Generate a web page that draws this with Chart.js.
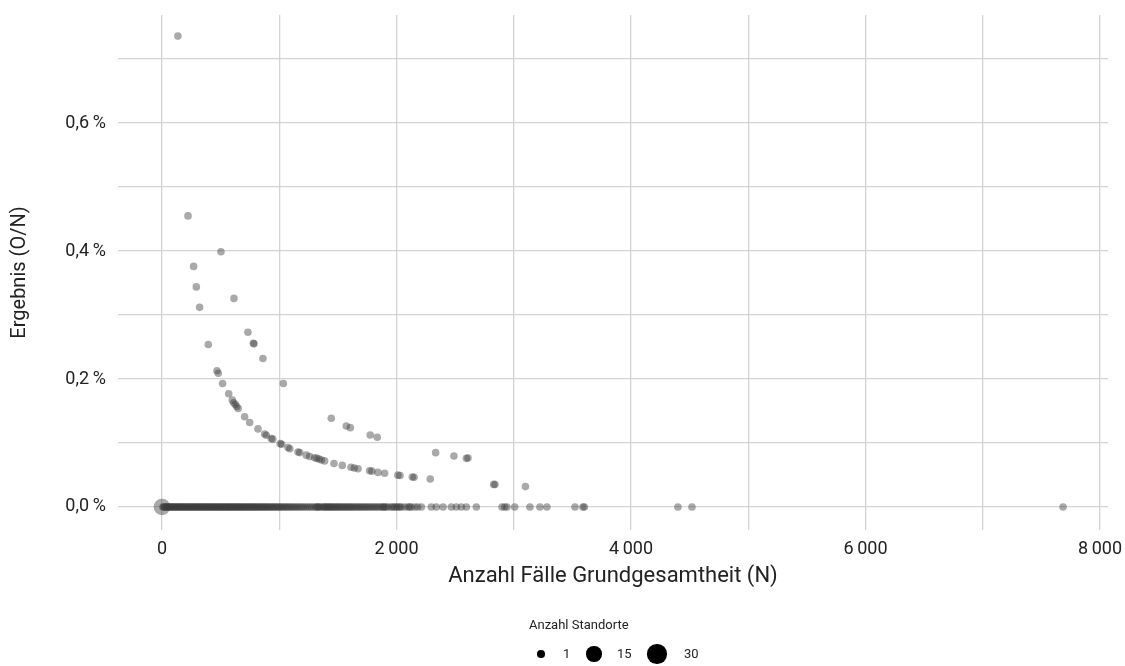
<!DOCTYPE html>
<html>
<head>
<meta charset="utf-8">
<script src="https://cdn.jsdelivr.net/npm/chart.js@4"></script>
<style>
  body { margin: 0; background: #fff; font-family: Roboto, sans-serif; }
  #wrap { position: relative; width: 1125px; height: 666px; }
  #legend { position: absolute; left: 0; top: 0; width: 1125px; height: 666px; color: #222; font-size: 13px; pointer-events: none; }
  #legend span { position: absolute; line-height: 16px; }
  #legend .dot { background: #000; border-radius: 50%; }
</style>
</head>
<body>
<div id="wrap">
  <canvas id="myChart"></canvas>
  <div id="legend">
    <span style="left:529px; top:617px;">Anzahl Standorte</span>
  </div>
</div>
<script>
// Punkte auf den Kurven (N, Ergebnis in %)
const kurveN = [136, 222, 270, 293, 321, 395, 469, 480, 503, 517, 569, 600, 612, 625, 638, 650, 614, 705, 733, 748,
  779, 785, 819, 861, 876, 890, 932, 945, 1009, 1020, 1035, 1075, 1090, 1160, 1175, 1231, 1260, 1302, 1320, 1340,
  1360, 1387, 1444, 1467, 1538, 1572, 1606, 1612, 1640, 1672, 1771, 1790, 1776, 1836, 1842, 1899, 2012, 2030, 2135, 2150,
  2288, 2334, 2490, 2596, 2610, 2829, 2840, 3100];
const kurveErgebnis = [0.736, 0.455, 0.376, 0.344, 0.312, 0.254, 0.213, 0.209, 0.399, 0.193, 0.177, 0.167, 0.163, 0.160, 0.157, 0.154, 0.326, 0.141, 0.273, 0.132,
  0.256, 0.255, 0.122, 0.232, 0.114, 0.112, 0.107, 0.106, 0.099, 0.098, 0.193, 0.093, 0.091, 0.086, 0.085, 0.081, 0.079, 0.077, 0.076, 0.075,
  0.0735, 0.072, 0.1386, 0.068, 0.065, 0.1266, 0.124, 0.062, 0.061, 0.0598, 0.0565, 0.056, 0.1125, 0.109, 0.054, 0.0527, 0.0497, 0.0493, 0.0468, 0.0465,
  0.0437, 0.0849, 0.0797, 0.076, 0.0765, 0.0353, 0.0352, 0.0318];

// Standorte mit Ergebnis 0 %
const nullN = [8, 15, 22, 31, 38, 46, 53, 61, 70, 77, 85, 93, 101, 110, 118, 126, 133, 142, 150, 159,
  167, 175, 184, 192, 200, 209, 217, 226, 234, 243, 251, 260, 268, 277, 285, 294, 302, 311, 320, 328,
  337, 345, 354, 362, 371, 380, 388, 397, 405, 414, 423, 431, 440, 449, 457, 466, 474, 483, 492, 500,
  509, 518, 527, 535, 544, 553, 562, 570, 579, 588, 597, 606, 615, 624, 633, 642, 651, 660, 669, 678,
  688, 697, 706, 716, 725, 735, 744, 754, 763, 773, 783, 793, 802, 812, 822, 833, 843, 853, 864, 874,
  885, 895, 906, 917, 928, 940, 951, 963, 974, 986, 998, 1010, 1023, 1036, 1049, 1062, 1075, 1089, 1103, 1117,
  1131, 1146, 1161, 1176, 1192, 1208, 1224, 1241, 1258, 1275, 1293, 1311, 1330, 1349, 1368, 1388, 1409, 1430, 1451, 1473,
  1496, 1519, 1543, 1567, 1592, 1618, 1644, 1671, 1699, 1727, 1756, 1786, 1817, 1848, 1880, 1899, 1913, 1956, 1968, 1999,
  2015, 2041, 2098, 2112, 2155, 2212, 2297, 2340, 2397, 2468, 2511, 2553, 2596, 2681, 2900, 2923, 2942, 3008, 3138, 3223,
  3283, 3522, 3590, 3602, 4400, 4520, 7685,
  1320, 1340, 1380, 1400, 1420, 1440, 1462, 1485, 1507, 1530, 1555, 1580, 1605, 1630, 1658, 1685, 1713, 1742, 1771, 1801,
  1832, 1864, 1890, 1930, 1985, 2028, 2070, 2125, 2180];

// Großer Punkt bei 0
const grossN = [0];
const grossStandorte = [20];

const legendeStandorte = [1, 15, 30];

const radiusFor = s => 2.5 + 1.3 * Math.sqrt(s);

const punkte = [];
kurveN.forEach((n, i) => punkte.push({ x: n, y: kurveErgebnis[i], r: radiusFor(1) }));
nullN.forEach(n => punkte.push({ x: n, y: 0, r: radiusFor(1) }));
grossN.forEach((n, i) => punkte.push({ x: n, y: 0, r: radiusFor(grossStandorte[i]) }));

const fmtNum = v => {
  let s = Math.abs(v).toFixed(0).replace(/\B(?=(\d{3})+(?!\d))/g, '\u2009');
  return (v < 0 ? '-' : '') + s;
};

const tickFont = { family: 'Roboto', size: 18, weight: '400' };
const gridColor = '#d3d3d3';

const ctx = document.getElementById('myChart').getContext('2d');
const myChart = new Chart(ctx, {
  type: 'bubble',
  data: {
    datasets: [{
      data: punkte,
      backgroundColor: 'rgba(60, 60, 60, 0.44)',
      borderWidth: 0,
      hoverRadius: 0
    }]
  },
  options: {
    responsive: true,
    maintainAspectRatio: false,
    animation: false,
    events: [],
    layout: { padding: { top: 15, right: 17, bottom: 66, left: 0 } },
    plugins: {
      legend: { display: false },
      tooltip: { enabled: false }
    },
    scales: {
      x: {
        type: 'linear',
        min: -375,
        max: 8068,
        afterBuildTicks: scale => {
          scale.ticks = [0, 1000, 2000, 3000, 4000, 5000, 6000, 7000, 8000].map(v => ({ value: v }));
        },
        afterFit: scale => {
          scale.height = 70;
          scale.paddingLeft = 0;
          scale.paddingRight = 0;
        },
        grid: { color: gridColor, lineWidth: 1.3, drawTicks: false },
        border: { display: false },
        ticks: {
          padding: 9,
          color: '#222',
          font: tickFont,
          maxRotation: 0,
          autoSkip: false,
          callback: v => (v % 2000 === 0 ? fmtNum(v) : '')
        },
        title: {
          display: true,
          text: 'Anzahl Fälle Grundgesamtheit (N)',
          color: '#222',
          font: { family: 'Roboto', size: 22, weight: '400' },
          padding: { top: 4, bottom: 10 }
        }
      },
      y: {
        type: 'linear',
        min: -0.036,
        max: 0.769,
        afterBuildTicks: scale => {
          scale.ticks = [0, 0.1, 0.2, 0.3, 0.4, 0.5, 0.6, 0.7].map(v => ({ value: v }));
        },
        afterFit: scale => {
          scale.width = 118;
          scale.paddingTop = 0;
          scale.paddingBottom = 0;
        },
        grid: { color: gridColor, lineWidth: 1.3, drawTicks: false },
        border: { display: false },
        ticks: {
          padding: 12,
          color: '#222',
          font: tickFont,
          autoSkip: false,
          callback: v => {
            const k = Math.round(v * 10);
            return k % 2 === 0 ? (k / 10).toFixed(1).replace('.', ',') + '\u2009%' : '';
          }
        },
        title: {
          display: true,
          text: 'Ergebnis (O/N)',
          color: '#222',
          font: { family: 'Roboto', size: 20, weight: '400' },
          padding: { top: 8, bottom: 0 }
        }
      }
    }
  }
});

// Legende für die Punktgröße
const legend = document.getElementById('legend');
const dotCenter = [541, 594, 657];
const labelLeft = [563, 617, 684];
legendeStandorte.forEach((s, i) => {
  const d = radiusFor(s) * 2;
  const dot = document.createElement('span');
  dot.className = 'dot';
  dot.style.width = d + 'px';
  dot.style.height = d + 'px';
  dot.style.left = (dotCenter[i] - d / 2) + 'px';
  dot.style.top = (654 - d / 2) + 'px';
  const lab = document.createElement('span');
  lab.textContent = s;
  lab.style.left = labelLeft[i] + 'px';
  lab.style.top = '646px';
  legend.appendChild(dot);
  legend.appendChild(lab);
});
</script>
</body>
</html>
